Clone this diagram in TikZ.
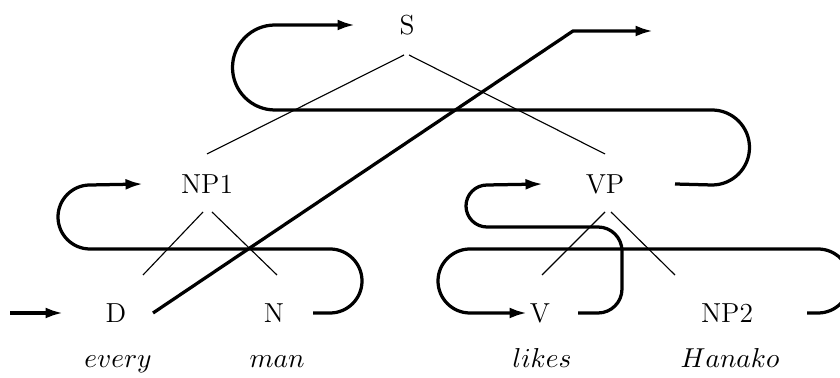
\documentclass[tikz,border=0pt]{standalone}
\usepackage{tikz}
\usetikzlibrary{arrows.meta,positioning,calc}

\begin{document}
\begin{tikzpicture}[x=0.4pt, y=0.4pt,
  every node/.style={font=\fontsize{11}{13}\selectfont, inner sep=0pt},
  word/.style={anchor=base},
  tree/.style={line width=0.45pt},
  walk/.style={line width=1.3pt},
  tip/.style={-{Latex[length=7pt,width=4.4pt]}}]
\useasboundingbox (0,0) rectangle (840,-378);
\clip (0,0) rectangle (840,-378);
% categories
\node (S) at (407,-25) {S};
\node (NP1) at (207,-184) {NP1};
\node (VP) at (605,-184) {VP};
\node (D) at (116,-313) {D};
\node (N) at (274,-313) {N};
\node (V) at (540,-313) {V};
\node (NP2) at (727,-313) {NP2};
% words
\node[word] (every) at ($(D)+(2,-55)$) {$every$};
\node[word] (man) at ($(N)+(3,-55)$) {$man$};
\node[word] (likes) at ($(V)+(2,-55)$) {$likes$};
\node[word] (hanako) at ($(NP2)+(3,-55)$) {$Hanako$};
% tree
\draw[tree] ($(S)+(-3,-30)$) -- ($(NP1)+(0,30)$);
\draw[tree] ($(S)+(2,-30)$) -- ($(VP)+(0,30)$);
\draw[tree] ($(NP1)+(-4,-28)$) -- ($(D)+(27,38)$);
\draw[tree] ($(NP1)+(5,-28)$) -- ($(N)+(3,38)$);
\draw[tree] ($(VP)+(0,-28)$) -- ($(V)+(2,38)$);
\draw[tree] ($(VP)+(6,-28)$) -- ($(NP2)+(-52,38)$);
% walk through the tree
\coordinate (enter) at (10,-313);
\coordinate (bend) at (573,-31);
\coordinate (leave) at (653,-31);
\draw[walk,tip] (enter) -- ($(D)+(-53,0)$);
\draw[walk,tip] ($(D)+(37,0)$) -- (bend) -- (leave);
\draw[walk,tip] ($(N)+(39,0)$) -- (330,-313) arc[start angle=-90,end angle=90,radius=32]
  -- (90,-249) arc[start angle=270,end angle=90,radius=32] -- ($(NP1)+(-64,0)$);
\draw[walk,tip] ($(VP)+(70,0)$) -- (712,-185) arc[start angle=-90,end angle=90,radius=37.5]
  -- (275,-110) arc[start angle=270,end angle=90,radius=42.5] -- ($(S)+(-52,0)$);
\draw[walk,tip] ($(V)+(38,0)$) -- (598,-313) arc[start angle=-90,end angle=0,radius=24]
  -- (622,-251) arc[start angle=0,end angle=90,radius=24]
  -- (487,-227) arc[start angle=270,end angle=90,radius=21] -- ($(VP)+(-62,0)$);
\draw[walk,tip] ($(NP2)+(80,0)$) -- (818,-313) arc[start angle=-90,end angle=90,radius=32]
  -- (470,-249) arc[start angle=90,end angle=270,radius=32] -- ($(V)+(-13,0)$);
\end{tikzpicture}
\end{document}
